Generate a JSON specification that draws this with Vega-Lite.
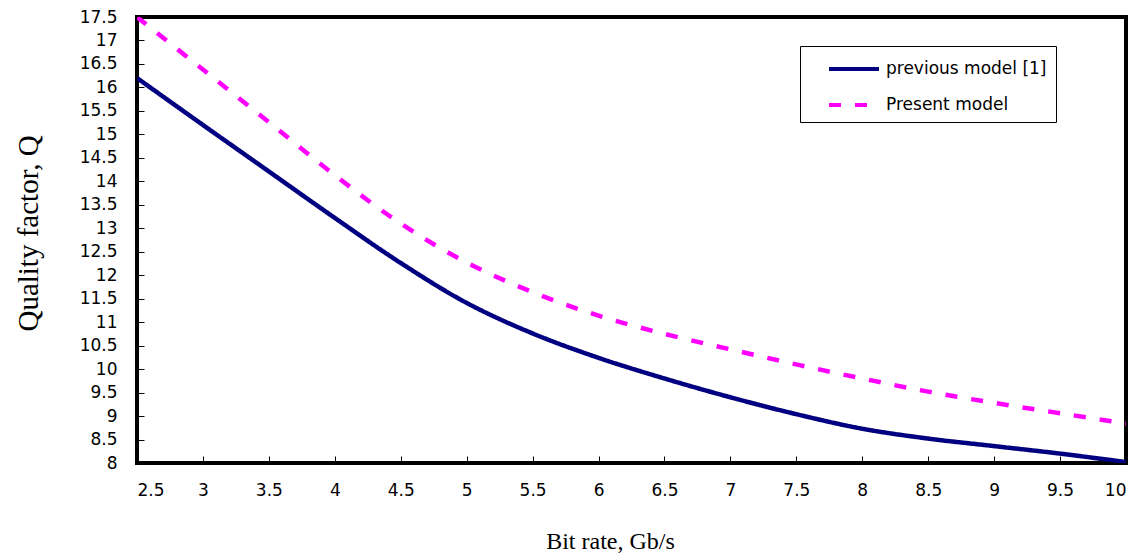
{
  "$schema": "https://vega.github.io/schema/vega-lite/v6.json",
  "width": 989,
  "height": 446,
  "autosize": "none",
  "padding": {"left": 137, "top": 17, "right": 17, "bottom": 92},
  "background": "white",
  "config": {
    "view": {"stroke": "black", "strokeWidth": 4},
    "axis": {"grid": false, "domain": false, "labelFont": "DejaVu Sans", "labelFontSize": 17, "labelColor": "black", "tickColor": "black", "tickWidth": 1, "tickSize": -7, "titleFont": "Liberation Serif", "titleFontWeight": "normal", "titleColor": "black"},
    "legend": {"strokeColor": "black", "strokeWidth": 1}
  },
  "data": {
    "values": [
      {"x": 2.5, "Q": 16.2, "series": "previous model [1]"},
      {"x": 3.0, "Q": 15.2, "series": "previous model [1]"},
      {"x": 3.5, "Q": 14.21, "series": "previous model [1]"},
      {"x": 4.0, "Q": 13.22, "series": "previous model [1]"},
      {"x": 4.5, "Q": 12.26, "series": "previous model [1]"},
      {"x": 5.0, "Q": 11.41, "series": "previous model [1]"},
      {"x": 5.5, "Q": 10.76, "series": "previous model [1]"},
      {"x": 6.0, "Q": 10.24, "series": "previous model [1]"},
      {"x": 6.5, "Q": 9.8, "series": "previous model [1]"},
      {"x": 7.0, "Q": 9.4, "series": "previous model [1]"},
      {"x": 7.5, "Q": 9.04, "series": "previous model [1]"},
      {"x": 8.0, "Q": 8.73, "series": "previous model [1]"},
      {"x": 8.5, "Q": 8.52, "series": "previous model [1]"},
      {"x": 9.0, "Q": 8.36, "series": "previous model [1]"},
      {"x": 9.5, "Q": 8.2, "series": "previous model [1]"},
      {"x": 10.0, "Q": 8.02, "series": "previous model [1]"},
      {"x": 2.5, "Q": 17.5, "series": "Present model"},
      {"x": 3.0, "Q": 16.38, "series": "Present model"},
      {"x": 3.5, "Q": 15.26, "series": "Present model"},
      {"x": 4.0, "Q": 14.13, "series": "Present model"},
      {"x": 4.5, "Q": 13.1, "series": "Present model"},
      {"x": 5.0, "Q": 12.27, "series": "Present model"},
      {"x": 5.5, "Q": 11.64, "series": "Present model"},
      {"x": 6.0, "Q": 11.14, "series": "Present model"},
      {"x": 6.5, "Q": 10.75, "series": "Present model"},
      {"x": 7.0, "Q": 10.42, "series": "Present model"},
      {"x": 7.5, "Q": 10.1, "series": "Present model"},
      {"x": 8.0, "Q": 9.8, "series": "Present model"},
      {"x": 8.5, "Q": 9.52, "series": "Present model"},
      {"x": 9.0, "Q": 9.28, "series": "Present model"},
      {"x": 9.5, "Q": 9.06, "series": "Present model"},
      {"x": 10.0, "Q": 8.84, "series": "Present model"}
    ]
  },
  "mark": {"type": "line", "strokeWidth": 4.5, "interpolate": "catmull-rom", "clip": true},
  "encoding": {
    "x": {
      "field": "x", "type": "quantitative",
      "scale": {"domain": [2.5, 10], "nice": false, "zero": false},
      "axis": {"values": [2.5, 3, 3.5, 4, 4.5, 5, 5.5, 6, 6.5, 7, 7.5, 8, 8.5, 9, 9.5, 10], "format": "~g", "labelPadding": 26, "title": "Bit rate, Gb/s", "titleFontSize": 24, "titleX": 473, "titleY": 85, "titleAlign": "center", "titleBaseline": "alphabetic"}
    },
    "y": {
      "field": "Q", "type": "quantitative",
      "scale": {"domain": [8, 17.5], "nice": false, "zero": false},
      "axis": {"values": [8, 8.5, 9, 9.5, 10, 10.5, 11, 11.5, 12, 12.5, 13, 13.5, 14, 14.5, 15, 15.5, 16, 16.5, 17, 17.5], "format": "~g", "labelPadding": 27, "title": "Quality factor, Q", "titleFontSize": 29, "titleAngle": -90, "titleX": -100, "titleY": 216, "titleAlign": "center", "titleBaseline": "alphabetic"}
    },
    "color": {
      "field": "series", "type": "nominal",
      "scale": {"domain": ["previous model [1]", "Present model"], "range": ["#000080", "#FF00FF"]},
      "legend": {"title": null, "orient": "none", "legendX": 663, "legendY": 29, "symbolType": "M-2,0H2", "symbolSize": 625, "symbolStrokeWidth": 4, "symbolOffset": 31, "labelFont": "DejaVu Sans", "labelFontSize": 17, "labelColor": "black", "labelOffset": 17.5, "labelLimit": 400, "padding": 8.5, "rowPadding": 13, "fillColor": "white"}
    },
    "strokeDash": {
      "field": "series", "type": "nominal",
      "scale": {"domain": ["previous model [1]", "Present model"], "range": [[1, 0], [12, 14]]},
      "legend": {"title": null, "orient": "none", "legendX": 663, "legendY": 29, "symbolType": "M-2,0H2", "symbolSize": 625, "symbolStrokeWidth": 4, "symbolOffset": 31, "labelFont": "DejaVu Sans", "labelFontSize": 17, "labelColor": "black", "labelOffset": 17.5, "labelLimit": 400, "padding": 8.5, "rowPadding": 13, "fillColor": "white"}
    }
  }
}
